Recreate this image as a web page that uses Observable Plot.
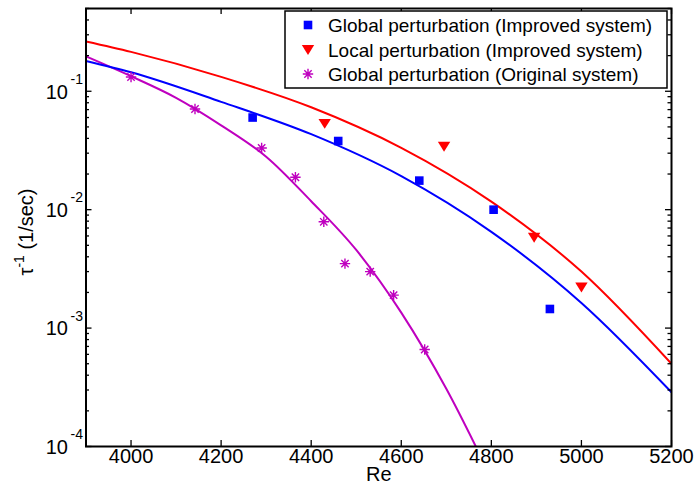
<!DOCTYPE html>
<html><head><meta charset="utf-8">
<script src="https://cdn.jsdelivr.net/npm/d3@7"></script>
<script src="https://cdn.jsdelivr.net/npm/@observablehq/plot@0.6"></script>
<style>
html,body{margin:0;padding:0;background:#fff;}
#chart svg{display:block;}
</style>
</head><body><div id="chart"></div>
<script>
// ---- data ----
const globalImprovedRe  = [4270, 4460, 4640, 4805, 4930];
const globalImprovedTau = [0.060, 0.038, 0.0176, 0.0100, 0.00145];
const localImprovedRe   = [4430, 4695, 4895, 5000];
const localImprovedTau  = [0.053, 0.034, 0.0058, 0.0022];
const globalOriginalRe  = [4000, 4142, 4290, 4365, 4428, 4475, 4531, 4583, 4652];
const globalOriginalTau = [0.132, 0.0708, 0.0332, 0.0188, 0.0079, 0.0035, 0.0030, 0.0019, 0.00066];

const fitImprovedRe        = [3900, 4000, 4200, 4400, 4600, 4800, 5000, 5200];
const fitGlobalImprovedTau = [0.180, 0.1445, 0.0814, 0.0434, 0.0192, 0.0065, 0.00163, 0.000287];
const fitLocalImprovedTau  = [0.263, 0.215, 0.1324, 0.0733, 0.0333, 0.0117, 0.0030, 0.000499];
const fitOriginalRe        = [3900, 4000, 4100, 4200, 4300, 4400, 4500, 4600, 4700, 4800];
const fitOriginalTau       = [0.197, 0.134, 0.0881, 0.0516, 0.0280, 0.01178, 0.00457, 0.00135, 0.000307, 0.000054];

const xTicks = [4000, 4200, 4400, 4600, 4800, 5000, 5200];
const xTickLabels = ["4000", "4200", "4400", "4600", "4800", "5000", "5200"];
const yTicks = [1e-4, 1e-3, 1e-2, 1e-1];
const yTickBase = ["10", "10", "10", "10"];
const yTickExponents = ["-4", "-3", "-2", "-1"];
const yMinorTicks = [1e-4, 1e-3, 1e-2, 1e-1]
  .flatMap(d => [2, 3, 4, 5, 6, 7, 8, 9].map(k => k * d))
  .filter(v => v <= 0.5);
const legendLabels = [
  "Global perturbation (Improved system)",
  "Local perturbation (Improved system)",
  "Global perturbation (Original system)"
];
const xLabel = "Re";

const BLUE = "#0000ff", RED = "#ff0000", MAG = "#bf00bf";
const FONT = "'Liberation Sans', Arial, Helvetica, sans-serif";

// ---- custom MATLAB-like marker symbols ----
const squareSym = {draw(ctx, size) {const r = Math.sqrt(size / Math.PI); ctx.rect(-r, -r, 2 * r, 2 * r);}};
const triDownSym = {draw(ctx, size) {const r = Math.sqrt(size / Math.PI);
  ctx.moveTo(-r, -0.8 * r); ctx.lineTo(r, -0.8 * r); ctx.lineTo(0, 0.8 * r); ctx.closePath();}};
const asteriskSym = {draw(ctx, size) {const r = Math.sqrt(size / Math.PI), d = r * Math.SQRT1_2;
  ctx.moveTo(-r, 0); ctx.lineTo(r, 0); ctx.moveTo(0, -r); ctx.lineTo(0, r);
  ctx.moveTo(-d, -d); ctx.lineTo(d, d); ctx.moveTo(-d, d); ctx.lineTo(d, -d);}};

// ---- tables ----
const fitImproved = fitImprovedRe.map((x, i) => ({x, blue: fitGlobalImprovedTau[i], red: fitLocalImprovedTau[i]}));
const fitOriginal = fitOriginalRe.map((x, i) => ({x, y: fitOriginalTau[i]}));
const ptsGI = globalImprovedRe.map((x, i) => ({x, y: globalImprovedTau[i]}));
const ptsLI = localImprovedRe.map((x, i) => ({x, y: localImprovedTau[i]}));
const ptsGO = globalOriginalRe.map((x, i) => ({x, y: globalOriginalTau[i]}));
const yTickRows = yTicks.map((y, i) => ({y, base: yTickBase[i], exp: yTickExponents[i]}));
const xTickRows = xTicks.map((x, i) => ({x, label: xTickLabels[i]}));

const W = 696, H = 490;
const mL = 85.5, mR = 25, mT = 8, mB = 44;
const FW = W - mL - mR, FH = H - mT - mB;

const plot = Plot.plot({
  width: W, height: H,
  marginLeft: mL, marginRight: mR, marginTop: mT, marginBottom: mB,
  style: {fontFamily: FONT, fontSize: "20px", background: "white", color: "black"},
  x: {domain: [3900, 5200], axis: null},
  y: {type: "log", domain: [1e-4, 0.5], axis: null},
  marks: [
    // fitted curves
    Plot.line(fitOriginal, {x: "x", y: "y", stroke: MAG, strokeWidth: 2, curve: "monotone-x", clip: true}),
    Plot.line(fitImproved, {x: "x", y: "blue", stroke: BLUE, strokeWidth: 2, curve: "monotone-x", clip: true}),
    Plot.line(fitImproved, {x: "x", y: "red", stroke: RED, strokeWidth: 2, curve: "monotone-x", clip: true}),
    // measured points
    Plot.dot(ptsGI, {x: "x", y: "y", symbol: squareSym, r: 4.3, fill: BLUE, stroke: "none"}),
    Plot.dot(ptsLI, {x: "x", y: "y", symbol: triDownSym, r: 6.2, fill: RED, stroke: "none"}),
    Plot.dot(ptsGO, {x: "x", y: "y", symbol: asteriskSym, r: 5.2, fill: "none", stroke: MAG, strokeWidth: 1.4}),
    // inward ticks (box style)
    Plot.tickX(xTicks, {x: d => d, insetTop: FH - 6, stroke: "black", strokeWidth: 1.3}),
    Plot.tickX(xTicks, {x: d => d, insetBottom: FH - 6, stroke: "black", strokeWidth: 1.3}),
    Plot.tickY(yTicks, {y: d => d, insetRight: FW - 6, stroke: "black", strokeWidth: 1.3}),
    Plot.tickY(yTicks, {y: d => d, insetLeft: FW - 6, stroke: "black", strokeWidth: 1.3}),
    Plot.tickY(yMinorTicks, {y: d => d, insetRight: FW - 3.5, stroke: "black", strokeWidth: 1.3}),
    Plot.tickY(yMinorTicks, {y: d => d, insetLeft: FW - 3.5, stroke: "black", strokeWidth: 1.3}),
    Plot.frame({stroke: "black", strokeWidth: 2}),
    // tick labels
    Plot.text(xTickRows, {x: "x", text: "label", frameAnchor: "bottom", dy: 16, fontSize: 20, fill: "black"}),
    Plot.text(yTickRows, {y: "y", text: "base", frameAnchor: "left", textAnchor: "end", dx: -18, dy: 1, fontSize: 20, fill: "black"}),
    Plot.text(yTickRows, {y: "y", text: "exp", frameAnchor: "left", textAnchor: "end", dx: -3, dy: -12, fontSize: 14, fill: "black"}),
    Plot.text([xLabel], {text: d => d, frameAnchor: "bottom", dy: 34, fontSize: 20, fill: "black"})
  ]
});

document.getElementById("chart").appendChild(plot);

// ---- y-axis label with superscript ----
const svg = d3.select(plot);
const yl = svg.append("text")
  .attr("transform", "translate(33,232) rotate(-90)")
  .attr("text-anchor", "middle")
  .attr("font-family", FONT).attr("font-size", 20).attr("fill", "black");
yl.append("tspan").text("\u03c4");
yl.append("tspan").attr("dy", -9).attr("font-size", 14).text("-1");
yl.append("tspan").attr("dy", 9).text(" (1/sec)");

// ---- legend ----
const lg = svg.append("g").attr("font-family", FONT).attr("font-size", 19).attr("text-anchor", "start");
lg.append("rect").attr("x", 285).attr("y", 11).attr("width", 382).attr("height", 77)
  .attr("fill", "white").attr("stroke", "black").attr("stroke-width", 1.5);
const legendSyms = [
  {sym: squareSym, r: 4.3, fill: BLUE, stroke: "none", sw: 0},
  {sym: triDownSym, r: 6.2, fill: RED, stroke: "none", sw: 0},
  {sym: asteriskSym, r: 5.2, fill: "none", stroke: MAG, sw: 1.4}
];
const rowY = [25, 50, 74];
legendLabels.forEach((lab, i) => {
  const s = legendSyms[i];
  lg.append("path")
    .attr("d", d3.symbol().type(s.sym).size(Math.PI * s.r * s.r)())
    .attr("transform", `translate(308,${rowY[i]})`)
    .attr("fill", s.fill).attr("stroke", s.stroke).attr("stroke-width", s.sw);
  lg.append("text").attr("x", 328).attr("y", rowY[i]).attr("dy", "0.35em")
    .attr("text-anchor", "start").attr("fill", "black").text(lab);
});
</script>
</body></html>
